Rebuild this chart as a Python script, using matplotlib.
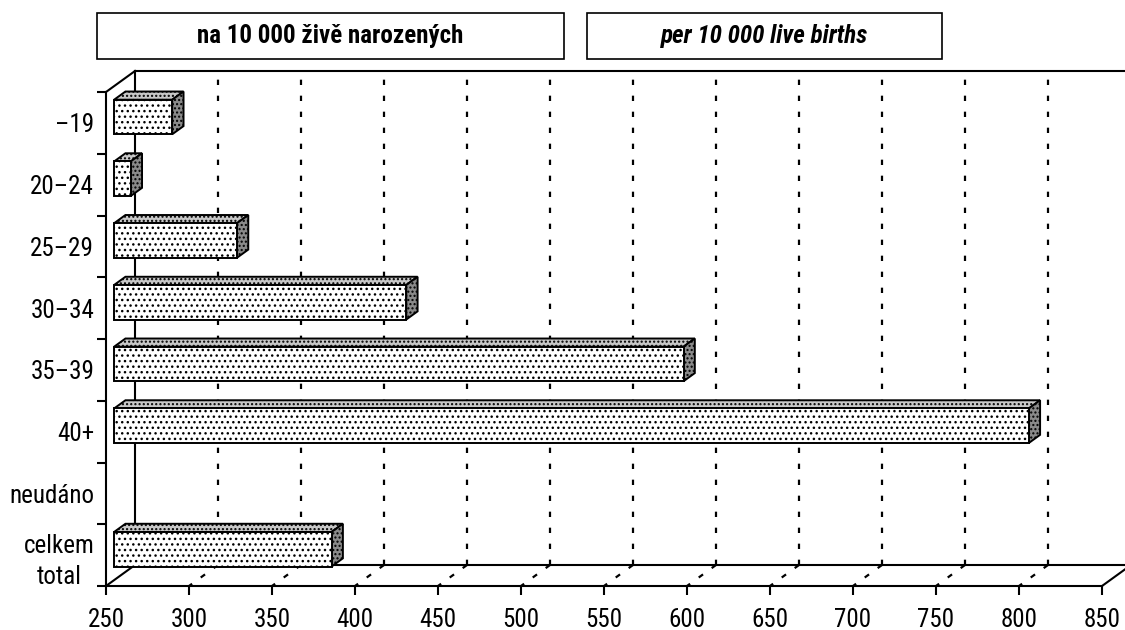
import numpy as np
import matplotlib
matplotlib.use("Agg")
import matplotlib.pyplot as plt
from matplotlib.patches import Polygon, Rectangle
from matplotlib.lines import Line2D
from matplotlib import font_manager as fm

# ---------------- data ----------------
categories = ["\u201319", "20\u201324", "25\u201329", "30\u201334", "35\u201339", "40+", "neud\u00e1no", "celkem\ntotal"]
values = [285, 260, 324, 426, 593, 801, np.nan, 381]
x_ticks = [250, 300, 350, 400, 450, 500, 550, 600, 650, 700, 750, 800, 850]
grid_values = [300, 350, 400, 450, 500, 550, 600, 650, 700, 750, 800]
header_cz = "na 10 000 \u017eiv\u011b narozen\u00fdch"
header_en = "per 10 000 live births"

# ---------------- fonts ----------------
def pick_font():
    names = {f.name for f in fm.fontManager.ttflist}
    for fam in ["Liberation Sans Narrow", "Arial Narrow", "Roboto Condensed",
                "Open Sans Condensed", "Noto Sans Condensed", "DejaVu Sans Condensed"]:
        if fam in names:
            return fam, True
    for fam in ["Liberation Sans", "DejaVu Sans"]:
        if fam in names:
            return fam, False
    return "DejaVu Sans", False

FONT, NARROW = pick_font()
plt.rcParams["font.family"] = [FONT, "DejaVu Sans"]
plt.rcParams["hatch.linewidth"] = 1.0
FS = 18 if NARROW else 16

# ---------------- figure / axes (front plane) ----------------
W, H = 1125, 630
fig = plt.figure(figsize=(W / 100, H / 100), dpi=100)
L, R, T, B = 106, 1102, 92, 586
ax = fig.add_axes([L / W, (H - B) / H, (R - L) / W, (B - T) / H])
ax.set_facecolor("none")
n = len(categories)
xmin, xmax = x_ticks[0], x_ticks[-1]
ax.set_xlim(xmin, xmax)
ax.set_ylim(n - 0.5, -0.5)

# oblique depth offsets (data units for full depth)
DXD = 29 / (R - L) * (xmax - xmin)
DYD = -21 / (B - T) * n


def P(x, y, d):
    return (x + d * DXD, y + d * DYD)


lw_axis = 1.5
for s in ["top", "right"]:
    ax.spines[s].set_visible(False)
for s in ["left", "bottom"]:
    ax.spines[s].set_linewidth(lw_axis)
    ax.spines[s].set_zorder(6)

ax.set_xticks(x_ticks)
ax.set_xticklabels([str(v) for v in x_ticks], fontsize=FS)
ax.tick_params(axis="x", direction="out", length=6.5, width=lw_axis, pad=9)
ax.set_yticks(range(n))
ax.set_yticklabels(categories, fontsize=FS, multialignment="center", linespacing=1.4)
ax.tick_params(axis="y", which="major", length=0, pad=8.5)
ax.set_yticks(np.arange(-0.5, n, 1.0), minor=True)
ax.tick_params(axis="y", which="minor", direction="out", length=6.5, width=lw_axis)

ytop, ybot = -0.5, n - 0.5

# back wall / floor frame
def line(p1, p2, **kw):
    ax.add_line(Line2D([p1[0], p2[0]], [p1[1], p2[1]], clip_on=False, **kw))

frame_kw = dict(color="black", lw=lw_axis, zorder=2, solid_capstyle="projecting")
line(P(xmin, ybot, 1), P(xmax, ybot, 1), **frame_kw)
line(P(xmin, ytop, 1), P(xmax, ytop, 1), **frame_kw)
line(P(xmin, ytop, 1), P(xmin, ybot, 1), **frame_kw)
line(P(xmin, ytop, 0), P(xmin, ytop, 1), **frame_kw)
line(P(xmin, ybot, 0), P(xmin, ybot, 1), **frame_kw)
line(P(xmax, ybot, 0), P(xmax, ybot, 1), **frame_kw)

# gridlines: back wall + floor
grid_kw = dict(color="black", lw=1.6, dashes=(2.4, 4.8), zorder=1)
for g in grid_values:
    line(P(g, ybot, 1), P(g, ytop, 1), **grid_kw)
    line(P(g, ybot, 1), P(g, ybot, 0), **grid_kw)

# bars
d0, d1 = 0.28, 0.67
h = 0.56
bar_lw = 1.4
for i, v in enumerate(values):
    if np.isnan(v):
        continue
    yt, yb = i - h / 2, i + h / 2
    front = [P(xmin, yt, d0), P(v, yt, d0), P(v, yb, d0), P(xmin, yb, d0)]
    top = [P(xmin, yt, d0), P(v, yt, d0), P(v, yt, d1), P(xmin, yt, d1)]
    side = [P(v, yt, d0), P(v, yb, d0), P(v, yb, d1), P(v, yt, d1)]
    ax.add_patch(Polygon(top, closed=True, facecolor="#c8c8c8", edgecolor="black",
                         hatch="....", lw=bar_lw, zorder=4, clip_on=False, joinstyle="miter"))
    ax.add_patch(Polygon(side, closed=True, facecolor="#8a8a8a", edgecolor="black",
                         hatch="....", lw=bar_lw, zorder=4, clip_on=False, joinstyle="miter"))
    ax.add_patch(Polygon(front, closed=True, facecolor="white", edgecolor="black",
                         hatch="...", lw=bar_lw, zorder=5, clip_on=False, joinstyle="miter"))

# header boxes
def header(x0, x1, text, style):
    y0, y1 = 13, 59
    fig.patches.append(Rectangle((x0 / W, 1 - y1 / H), (x1 - x0) / W, (y1 - y0) / H,
                                 transform=fig.transFigure, facecolor="white",
                                 edgecolor="black", lw=1.2))
    fig.text((x0 + x1) / 2 / W, 1 - (y0 + y1) / 2 / H, text, ha="center", va="center",
             fontsize=FS, fontweight="bold", fontstyle=style)

header(97, 564, header_cz, "normal")
header(587, 942, header_en, "italic")

fig.savefig("out.png", dpi=100, facecolor="white")
